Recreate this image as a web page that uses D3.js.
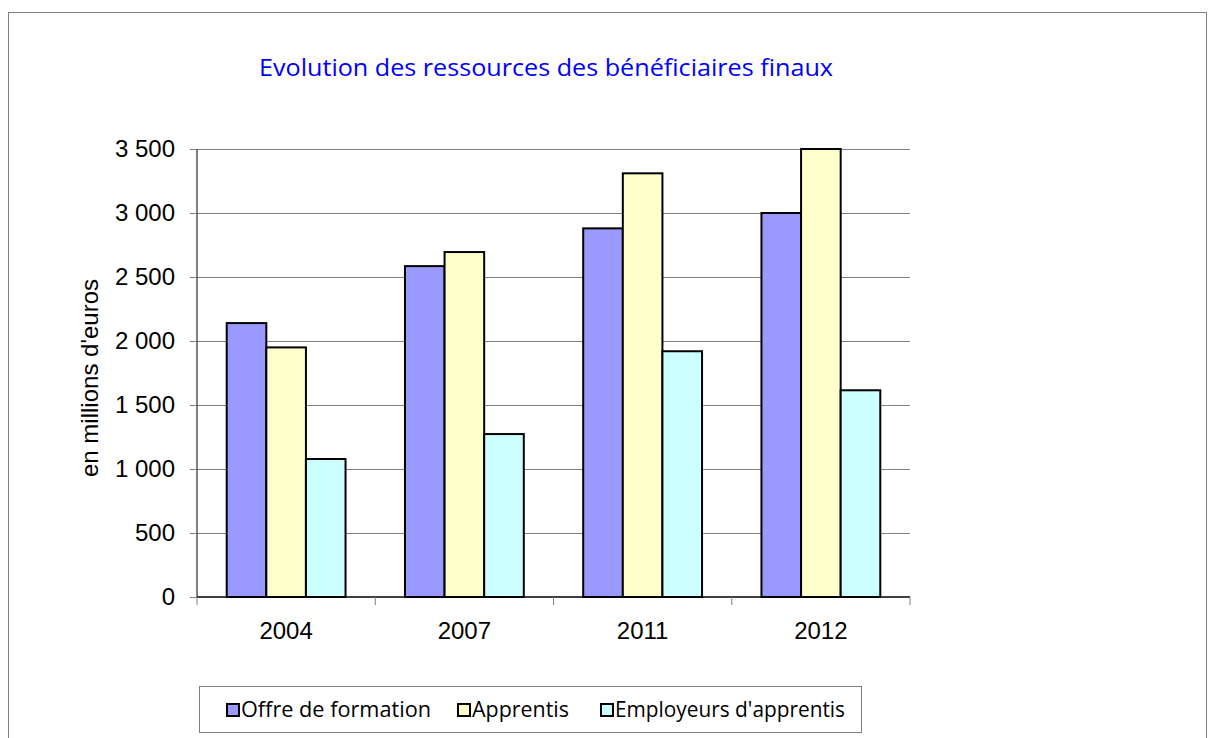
<!DOCTYPE html>
<html>
<head>
<meta charset="utf-8">
<script src="https://cdnjs.cloudflare.com/ajax/libs/d3/7.8.5/d3.min.js"></script>
<style>
  body { margin: 0; background: #fff; }
  svg { display: block; }
</style>
</head>
<body>
<script>
  // data
  var years = ["2004", "2007", "2011", "2012"];
  var seriesNames = ["Offre de formation", "Apprentis", "Employeurs d'apprentis"];
  var offre = [2140, 2585, 2880, 3000];
  var apprentis = [1950, 2695, 3310, 3500];
  var employeurs = [1078, 1273, 1920, 1615];
  var yTicks = [0, 500, 1000, 1500, 2000, 2500, 3000, 3500];
  var colors = ["#9999ff", "#ffffcc", "#ccffff"];

  var series = [offre, apprentis, employeurs];

  var width = 1209, height = 738;
  var plotLeft = 197, plotRight = 910, plotTop = 149, plotBottom = 597;

  var svg = d3.select("body").append("svg")
    .attr("width", width)
    .attr("height", height);

  // outer frame
  svg.append("rect")
    .attr("x", 8.5).attr("y", 12.5)
    .attr("width", 1198).attr("height", 740)
    .attr("fill", "none")
    .attr("stroke", "#808080")
    .attr("stroke-width", 1);

  svg.append("text")
    .attr("x", 259).attr("y", 76)
    .attr("fill", "#0000ff")
    .attr("textLength", 574)
    .attr("lengthAdjust", "spacingAndGlyphs")
    .style("font-family", "'Open Sans', sans-serif")
    .style("font-size", "23px")
    .text("Evolution des ressources des  bénéficiaires finaux");

  var x0 = d3.scaleBand().domain(years).range([plotLeft, plotRight]).paddingInner(0).paddingOuter(0);
  var x1 = d3.scaleBand().domain(d3.range(series.length))
    .range([0, x0.bandwidth()]).paddingOuter(0.75).paddingInner(0);
  var y = d3.scaleLinear().domain([0, 3500]).range([plotBottom, plotTop]);

  // gridlines
  svg.append("g").selectAll("line")
    .data(yTicks.filter(function(d) { return d > 0; }))
    .enter().append("line")
    .attr("x1", plotLeft).attr("x2", plotRight)
    .attr("y1", function(d) { return Math.round(y(d)) + 0.5; })
    .attr("y2", function(d) { return Math.round(y(d)) + 0.5; })
    .attr("stroke", "#808080")
    .attr("stroke-width", 1.2);

  // bars
  var groups = svg.append("g").selectAll("g")
    .data(years)
    .enter().append("g")
    .attr("transform", function(d) { return "translate(" + x0(d) + ",0)"; });

  groups.selectAll("rect")
    .data(function(d, i) {
      return series.map(function(s, k) { return { k: k, v: s[i] }; });
    })
    .enter().append("rect")
    .attr("x", function(d) { return x1(d.k); })
    .attr("width", x1.bandwidth())
    .attr("y", function(d) { return y(d.v); })
    .attr("height", function(d) { return plotBottom - y(d.v); })
    .attr("fill", function(d) { return colors[d.k]; })
    .attr("stroke", "#000")
    .attr("stroke-width", 2);

  // y axis
  var yAxis = d3.axisLeft(y)
    .tickValues(yTicks)
    .tickSize(7)
    .tickPadding(15)
    .tickFormat(function(d) { return d3.format(",")(d).replace(",", " "); });

  var ya = svg.append("g")
    .attr("transform", "translate(" + plotLeft + ",0)")
    .call(yAxis);
  ya.select(".domain").attr("stroke", "#000").attr("d", "M0," + plotTop + "V" + plotBottom);
  ya.selectAll(".tick line").attr("stroke", "#808080");
  ya.selectAll("text")
    .style("font-family", "'Liberation Sans', Arial, sans-serif")
    .style("font-size", "24px")
    .attr("fill", "#000");

  // x axis
  var xa = svg.append("g")
    .attr("transform", "translate(0," + plotBottom + ")");
  xa.append("line")
    .attr("x1", plotLeft).attr("x2", plotRight)
    .attr("y1", 0).attr("y2", 0)
    .attr("stroke", "#000").attr("stroke-width", 1.5);
  xa.selectAll(".tk")
    .data(years.concat(["end"]))
    .enter().append("line")
    .attr("class", "tk")
    .attr("x1", function(d, i) { return plotLeft + i * x0.bandwidth(); })
    .attr("x2", function(d, i) { return plotLeft + i * x0.bandwidth(); })
    .attr("y1", 0).attr("y2", 8)
    .attr("stroke", "#808080");
  xa.selectAll("text")
    .data(years)
    .enter().append("text")
    .attr("x", function(d) { return x0(d) + x0.bandwidth() / 2; })
    .attr("y", 42)
    .attr("text-anchor", "middle")
    .style("font-family", "'Liberation Sans', Arial, sans-serif")
    .style("font-size", "24px")
    .text(function(d) { return d; });

  // y axis title
  svg.append("text")
    .attr("transform", "translate(98," + ((plotTop + plotBottom) / 2 + 5) + ") rotate(-90)")
    .attr("text-anchor", "middle")
    .style("font-family", "'Liberation Sans', Arial, sans-serif")
    .style("font-size", "24px")
    .text("en millions d'euros");

  // legend
  var legend = svg.append("g");
  legend.append("rect")
    .attr("x", 199.5).attr("y", 686.5)
    .attr("width", 662).attr("height", 46)
    .attr("fill", "#fff")
    .attr("stroke", "#808080");

  var legendX = [227, 458, 601];
  var legendW = [190, 97, 230];
  var items = legend.selectAll("g.item")
    .data(seriesNames)
    .enter().append("g")
    .attr("class", "item")
    .attr("transform", function(d, i) { return "translate(" + legendX[i] + ",704)"; });
  items.append("rect")
    .attr("width", 12).attr("height", 12)
    .attr("fill", function(d, i) { return colors[i]; })
    .attr("stroke", "#000").attr("stroke-width", 2);
  items.append("text")
    .attr("x", 14).attr("y", 13)
    .attr("textLength", function(d, i) { return legendW[i]; })
    .attr("lengthAdjust", "spacingAndGlyphs")
    .style("font-family", "'Open Sans', sans-serif")
    .style("font-size", "21px")
    .text(function(d) { return d; });
</script>
</body>
</html>
